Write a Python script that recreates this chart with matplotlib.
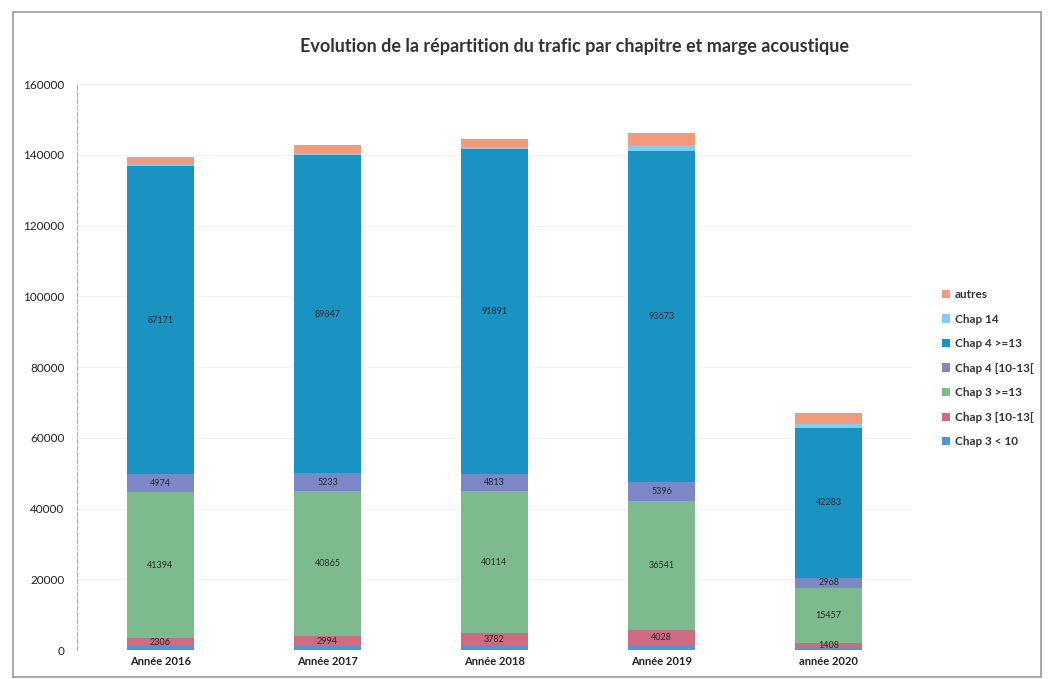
import matplotlib.pyplot as plt
import numpy as np
from matplotlib.patches import Rectangle

plt.rcParams['font.family'] = ['Lato', 'DejaVu Sans']

annees = ["Année 2016", "Année 2017", "Année 2018", "Année 2019", "année 2020"]

# stacking order, bottom to top
chap3_lt10 = [1000, 1000, 1000, 1500, 600]
chap3_10_13 = [2306, 2994, 3782, 4028, 1408]
chap3_ge13 = [41394, 40865, 40114, 36541, 15457]
chap4_10_13 = [4974, 5233, 4813, 5396, 2968]
chap4_ge13 = [87171, 89847, 91891, 93673, 42283]
chap14 = [500, 600, 500, 1700, 1200]
autres = [2000, 2200, 2500, 3400, 3000]

series = [
    ("Chap 3 < 10", chap3_lt10, "#4a98d6", False),
    ("Chap 3 [10-13[", chap3_10_13, "#cf6a82", True),
    ("Chap 3 >=13", chap3_ge13, "#7dbb8e", True),
    ("Chap 4 [10-13[", chap4_10_13, "#7b87c6", True),
    ("Chap 4 >=13", chap4_ge13, "#1b93c2", True),
    ("Chap 14", chap14, "#80cdf2", False),
    ("autres", autres, "#f39a7c", False),
]

fig = plt.figure(figsize=(10.52, 6.79), dpi=100)
ax = fig.add_axes([0.0732, 0.0427, 0.7938, 0.8333])

x = np.arange(len(annees))
bottom = np.zeros(len(annees))
handles = []
for name, vals, color, show in series:
    vals = np.array(vals, dtype=float)
    b = ax.bar(x, vals, width=0.4, bottom=bottom, color=color, label=name, zorder=3)
    handles.append(b)
    if show:
        for xi, v, b0 in zip(x, vals, bottom):
            ax.text(xi, b0 + v / 2, f"{int(v)}", ha='center', va='center',
                    fontsize=6.5, color='#2a2a2a', zorder=4)
    bottom += vals

ax.set_xlim(-0.5, len(annees) - 0.5)
ax.set_ylim(0, 160000)
ax.set_yticks(np.arange(0, 160001, 20000))
ax.set_xticks(x)
ax.set_xticklabels(annees, fontsize=8, fontweight='bold', color='#222222')
ax.tick_params(axis='y', labelsize=8.5, colors='#222222', length=0, pad=9)
ax.tick_params(axis='x', length=0, pad=4)
ax.grid(axis='y', color='#f2f2f2', linewidth=0.8, zorder=0)
for side in ['top', 'right', 'bottom']:
    ax.spines[side].set_visible(False)
ax.spines['left'].set_color('#b0b0b0')
ax.spines['left'].set_linestyle((0, (4, 2)))
ax.spines['left'].set_linewidth(0.8)

fig.text(0.546, 0.932, "Evolution de la répartition du trafic par chapitre et marge acoustique",
         ha='center', va='center', fontsize=13, fontweight='bold', color='#333333')

leg = fig.legend(handles[::-1], [s[0] for s in series][::-1], loc='upper left',
                 bbox_to_anchor=(0.885, 0.59), frameon=False, fontsize=8.5,
                 handlelength=0.7, handleheight=0.7, handletextpad=0.4, labelspacing=1.15)
for t in leg.get_texts():
    t.set_fontweight('bold')
    t.set_color('#333333')

# page frame around the chart
fig.patches.append(Rectangle((13 / 1052, 2 / 679), 1028 / 1052, 665 / 679,
                             transform=fig.transFigure, fill=False,
                             edgecolor='#9a9a9a', linewidth=1.2))

fig.savefig("out.png", dpi=100)
